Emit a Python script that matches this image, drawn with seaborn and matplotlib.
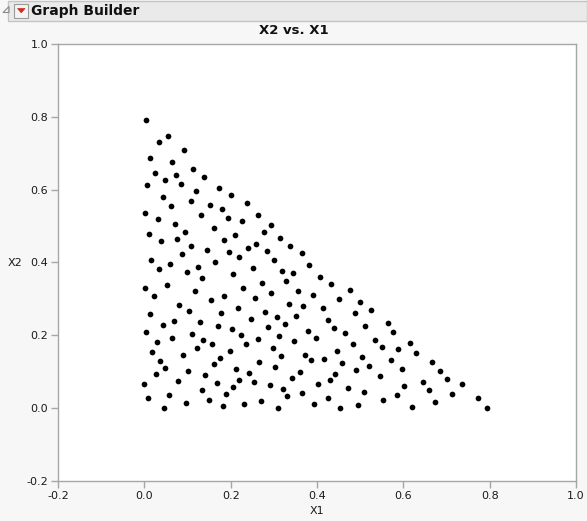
import pandas as pd
import seaborn as sns
import matplotlib.pyplot as plt
from matplotlib.patches import Rectangle, Polygon

# Mixture design points: component proportions X1 and X2
x1 = [0.004, 0.054, 0.033, 0.091, 0.013, 0.065, 0.112, 0.024, 0.073, 0.048,
      0.138, 0.084, 0.006, 0.173, 0.119, 0.043, 0.107, 0.151, 0.062, 0.179,
      0.001, 0.131,
      0.201, 0.237, 0.263, 0.193, 0.226, 0.294, 0.277, 0.209, 0.314, 0.185,
      0.259, 0.338, 0.241, 0.284, 0.365, 0.196, 0.219, 0.300, 0.381, 0.251,
      0.319, 0.344, 0.206,
      0.031, 0.070, 0.161, 0.094, 0.010, 0.075, 0.039, 0.109, 0.146, 0.088,
      0.016, 0.164, 0.060, 0.124, 0.035, 0.099, 0.134, 0.052, 0.002, 0.117,
      0.022, 0.154, 0.185, 0.081, 0.104, 0.012, 0.178,
      0.273, 0.328, 0.228, 0.293, 0.355, 0.256, 0.334, 0.368, 0.217, 0.280,
      0.351, 0.307, 0.248, 0.325, 0.287, 0.379, 0.203, 0.223, 0.312, 0.263,
      0.346, 0.236,
      0.407, 0.433, 0.477, 0.390, 0.450, 0.500, 0.414, 0.487, 0.525, 0.425,
      0.565, 0.439, 0.511, 0.465, 0.397, 0.535, 0.483,
      0.068, 0.043, 0.129, 0.171, 0.005, 0.111, 0.064, 0.137, 0.029, 0.156,
      0.121, 0.018, 0.090, 0.176, 0.036, 0.162, 0.049, 0.102, 0.026, 0.141,
      0.077, 0.168, 0.000, 0.133, 0.057, 0.008, 0.150, 0.096, 0.182, 0.046,
      0.199, 0.297, 0.317, 0.373, 0.266, 0.303, 0.212, 0.243, 0.361, 0.220,
      0.343, 0.253, 0.290, 0.206, 0.321, 0.366, 0.190, 0.331, 0.271, 0.230,
      0.309,
      0.551, 0.588, 0.446, 0.504, 0.417, 0.387, 0.571, 0.459, 0.520, 0.490,
      0.442, 0.545, 0.430, 0.402, 0.471, 0.508, 0.426, 0.585, 0.554, 0.393,
      0.494, 0.453,
      0.577, 0.616, 0.629, 0.666, 0.596, 0.684, 0.701, 0.645, 0.735, 0.602,
      0.659, 0.712, 0.772, 0.673, 0.620, 0.793]

x2 = [0.790, 0.748, 0.732, 0.709, 0.686, 0.675, 0.657, 0.647, 0.639, 0.627,
      0.634, 0.616, 0.612, 0.605, 0.597, 0.579, 0.570, 0.559, 0.554, 0.546,
      0.537, 0.531,
      0.586, 0.563, 0.531, 0.522, 0.514, 0.502, 0.484, 0.475, 0.468, 0.461,
      0.452, 0.446, 0.440, 0.432, 0.425, 0.428, 0.414, 0.407, 0.392, 0.384,
      0.378, 0.370, 0.368,
      0.520, 0.506, 0.496, 0.485, 0.479, 0.464, 0.458, 0.445, 0.435, 0.423,
      0.408, 0.402, 0.396, 0.388, 0.381, 0.374, 0.357, 0.337, 0.330, 0.321,
      0.307, 0.296, 0.309, 0.283, 0.268, 0.258, 0.261,
      0.343, 0.349, 0.330, 0.317, 0.323, 0.303, 0.287, 0.281, 0.274, 0.265,
      0.254, 0.249, 0.245, 0.232, 0.222, 0.213, 0.217, 0.202, 0.198, 0.191,
      0.184, 0.175,
      0.361, 0.341, 0.325, 0.311, 0.299, 0.292, 0.276, 0.262, 0.269, 0.242,
      0.235, 0.221, 0.226, 0.206, 0.194, 0.188, 0.175,
      0.240, 0.228, 0.237, 0.225, 0.208, 0.204, 0.193, 0.188, 0.182, 0.176,
      0.166, 0.153, 0.146, 0.137, 0.129, 0.120, 0.111, 0.103, 0.093, 0.091,
      0.075, 0.069, 0.067, 0.051, 0.036, 0.028, 0.023, 0.015, 0.006, 0.001,
      0.156, 0.164, 0.143, 0.146, 0.128, 0.114, 0.107, 0.096, 0.100, 0.078,
      0.083, 0.071, 0.063, 0.058, 0.054, 0.042, 0.038, 0.033, 0.020, 0.011,
      0.000,
      0.169, 0.163, 0.158, 0.140, 0.136, 0.131, 0.133, 0.123, 0.115, 0.105,
      0.095, 0.088, 0.077, 0.067, 0.056, 0.045, 0.027, 0.036, 0.023, 0.012,
      0.008, 0.001,
      0.210, 0.179, 0.151, 0.126, 0.108, 0.101, 0.079, 0.073, 0.067, 0.061,
      0.049, 0.040, 0.028, 0.016, 0.004, 0.000]

tick_values = [-0.2, 0.0, 0.2, 0.4, 0.6, 0.8, 1.0]
tick_labels = ["-0.2", "0.0", "0.2", "0.4", "0.6", "0.8", "1.0"]

sns.set_theme(style="white")
plt.rcParams["font.family"] = ["DejaVu Sans"]

W, H = 587, 521
fig = plt.figure(figsize=(W / 100, H / 100), dpi=100, facecolor="#f7f7f7")


def px_box(x0, y0, x1_, y1_):
    """Convert a pixel box (top-left origin) to figure-fraction rect."""
    return [x0 / W, 1 - y1_ / H, (x1_ - x0) / W, (y1_ - y0) / H]


ax = fig.add_axes(px_box(58, 44, 576, 481))
ax.set_facecolor("white")

df = pd.DataFrame({"X1": x1, "X2": x2})
sns.scatterplot(data=df, x="X1", y="X2", ax=ax, color="black", s=17,
                linewidth=0, legend=False)

ax.set_xlim(-0.2, 1.0)
ax.set_ylim(-0.2, 1.0)
ax.set_xticks(tick_values)
ax.set_xticklabels(tick_labels)
ax.set_yticks(tick_values)
ax.set_yticklabels(tick_labels)
ax.set_xlabel("")
ax.set_ylabel("")
for sp in ax.spines.values():
    sp.set_color("#a6a6a6")
    sp.set_linewidth(1.0)
ax.tick_params(direction="out", length=5, width=1, color="#a6a6a6",
               labelsize=8, labelcolor="#1a1a1a", pad=2,
               bottom=True, left=True)

# Axis titles and chart title
fig.text(317 / W, 1 - 511 / H, "X1", ha="center", va="center",
         fontsize=8, color="#1a1a1a")
fig.text(15 / W, 1 - 263 / H, "X2", ha="center", va="center",
         fontsize=8, color="#1a1a1a")
fig.text(0.5, 1 - 31 / H, "X2 vs. X1", ha="center", va="center",
         fontsize=9.5, fontweight="bold", color="#111111")

# Report header bar
fig.patches.append(Rectangle((8 / W, 1 - 21 / H), (W - 8) / W, 20 / H,
                             transform=fig.transFigure, facecolor="#eaeaea",
                             edgecolor="#c4c4c4", linewidth=1))
fig.patches.append(Polygon([(9 / W, 1 - 6.5 / H), (9 / W, 1 - 12.5 / H),
                            (3 / W, 1 - 12.5 / H)], closed=True,
                           transform=fig.transFigure, facecolor="none",
                           edgecolor="#8a8a8a", linewidth=0.8))
fig.patches.append(Rectangle((14 / W, 1 - 17.5 / H), 14 / W, 13.5 / H,
                             transform=fig.transFigure, facecolor="#f4f4f4",
                             edgecolor="#9a9a9a", linewidth=0.8))
fig.patches.append(Polygon([(17.5 / W, 1 - 8.5 / H), (25 / W, 1 - 8.5 / H),
                            (21.25 / W, 1 - 12.8 / H)], closed=True,
                           transform=fig.transFigure, facecolor="#d42a1e",
                           edgecolor="#d42a1e", linewidth=0.5))
fig.text(31 / W, 1 - 11 / H, "Graph Builder", ha="left", va="center",
         fontsize=10, fontweight="bold", color="#111111")

fig.savefig("out.png", dpi=100, facecolor=fig.get_facecolor())
